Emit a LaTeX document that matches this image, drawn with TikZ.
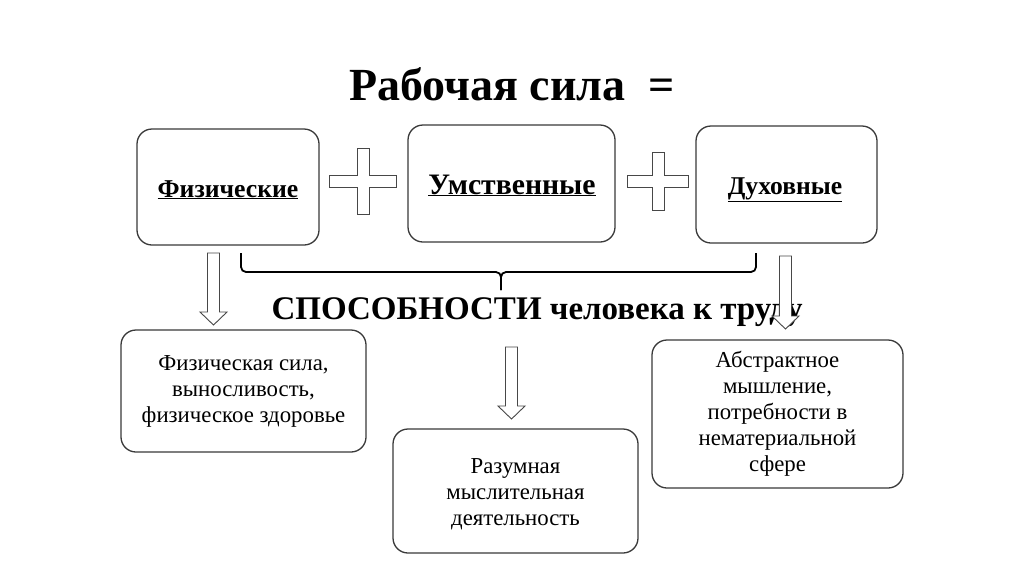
\documentclass[tikz,border=0pt]{standalone}
\usepackage{fontspec}
\setmainfont{Liberation Serif}
\usetikzlibrary{positioning}
\definecolor{boxgray}{HTML}{3A3A3A}
\definecolor{plusgray}{HTML}{474747}
% outlined plus sign: centre x, centre y, half width, half height
\newcommand{\plusmark}[4]{%
  \draw[crossline,shift={(#1,#2)}] (-6,-#4) -- (6,-#4) -- (6,-6) -- (#3,-6) -- (#3,6)
    -- (6,6) -- (6,#4) -- (-6,#4) -- (-6,6) -- (-#3,6) -- (-#3,-6) -- (-6,-6) -- cycle;}
% hollow block arrow pointing down: x, top y, tip y
\newcommand{\blockdown}[3]{%
  \draw[hollow] (#1-6,#2) -- (#1+6,#2) -- (#1+6,#3-13) -- (#1+13.5,#3-13) -- (#1,#3)
    -- (#1-13.5,#3-13) -- (#1-6,#3-13) -- cycle;}

\begin{document}
\begin{tikzpicture}[x=1pt,y=-1pt,
   capbox/.style={draw=boxgray,line width=1.3pt,rounded corners=15pt,fill=white,
                  align=center,inner sep=0pt},
   textbox/.style={capbox,font=\fontsize{22.8}{26}\selectfont},
   heading/.style={anchor=base,font=\fontsize{#1}{#1}\selectfont\bfseries},
   crossline/.style={draw=plusgray,line width=0.9pt,fill=white},
   hollow/.style={draw=plusgray,line width=0.9pt,fill=white},
   brace/.style={line width=1.8pt,rounded corners=5pt}]
  \path[use as bounding box,fill=white] (0,0) rectangle (1024,574);

  \node[heading=46] (title) at (512,100) {Рабочая сила\ \ =};

  % top row
  \node[capbox,minimum width=182,minimum height=116] (phys) at (228,187) {};
  \node[capbox,minimum width=207,minimum height=117] (ment) at (511.5,183.5) {};
  \node[capbox,minimum width=181,minimum height=117] (spir) at (786.5,184.5) {};
  \node[heading=25.7] (physl) at (228,197) {\underline{Физические}};
  \node[heading=29.7] (mentl) at (512,194) {\underline{Умственные}};
  \node[heading=25.6] (spirl) at (785,194) {\underline{Духовные}};
  \plusmark{363}{181}{33.5}{33}
  \plusmark{658}{181}{30.5}{29}

  % brace and caption
  \coordinate (bl) at (241,253);
  \coordinate (bm) at (501,272);
  \coordinate (br) at (756,253);
  \draw[brace] (bl) |- (bm) -- (501,290);
  \draw[brace] (br) |- (bm) -- (501,290);
  \node[heading=33,anchor=base west] (abil) at (268,319)
    {СПОСОБНОСТИ человека к труду};

  % bottom row
  \node[textbox,minimum width=245,minimum height=122] (physd) at (243.5,391)
    {Физическая сила,\\выносливость,\\физическое здоровье};
  \node[textbox,minimum width=245,minimum height=124] (mentd) at (515.5,491) {};
  \node[font=\fontsize{22.8}{26}\selectfont,align=center] (mentdl) at (515.5,494)
    {Разумная\\мыслительная\\деятельность};
  \node[textbox,minimum width=251,minimum height=148] (spird) at (777.5,414)
    {Абстрактное\\мышление,\\потребности в\\нематериальной\\сфере};

  % hollow arrows
  \blockdown{213.5}{253}{325}
  \blockdown{511.5}{347}{419}
  \blockdown{785.5}{256}{329}
\end{tikzpicture}
\end{document}
